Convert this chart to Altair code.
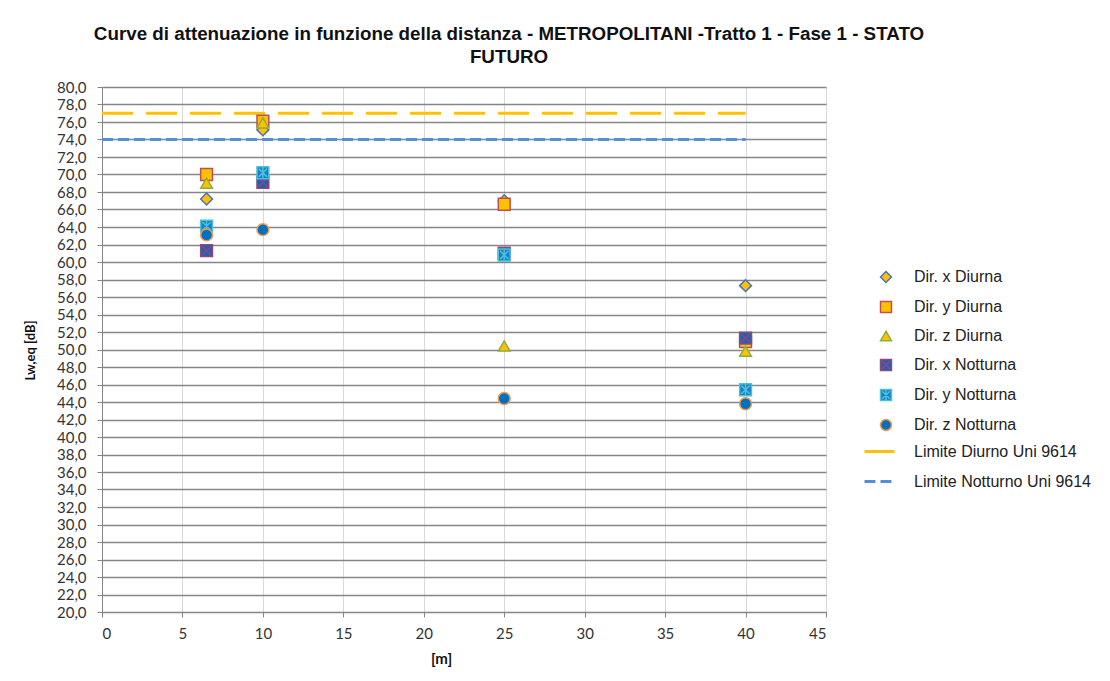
import altair as alt
import pandas as pd

# ---------------- data ----------------
dist = [6.5, 10, 25, 40]
series_names = ["Dir. x Diurna", "Dir. y Diurna", "Dir. z Diurna",
                "Dir. x Notturna", "Dir. y Notturna", "Dir. z Notturna"]
x_diurna = [67.2, 75.1, 67.0, 57.3]
y_diurna = [70.0, 76.1, 66.6, 50.9]
z_diurna = [69.0, 75.9, 50.4, 49.8]
x_notturna = [61.3, 69.1, 61.0, 51.3]
y_notturna = [64.1, 70.2, 60.8, 45.4]
z_notturna = [63.1, 63.7, 44.4, 43.8]

limit_names = ["Limite Diurno Uni 9614", "Limite Notturno Uni 9614"]
limit_x = [0, 40]
limit_diurno = [77.0, 77.0]
limit_notturno = [74.0, 74.0]

title_lines = ["Curve di attenuazione in funzione della distanza - METROPOLITANI -Tratto 1 - Fase 1 - STATO",
               "FUTURO"]
x_title = "[m]"
y_title = "Lw,eq [dB]"

# ---------------- tables ----------------
all_series = [x_diurna, y_diurna, z_diurna, x_notturna, y_notturna, z_notturna]
rows = []
for name, vals in zip(series_names, all_series):
    for d, v in zip(dist, vals):
        rows.append({"serie": name, "m": d, "db": v})
pts = pd.DataFrame(rows)

lrows = []
for name, vals in zip(limit_names, [limit_diurno, limit_notturno]):
    for d, v in zip(limit_x, vals):
        lrows.append({"limite": name, "m": d, "db": v})
lines_df = pd.DataFrame(lrows)

FONT = "Lato"
LFONT = "Liberation Sans"

shape_x_notturna = "M-1,-1H1V1H-1Z M-0.75,-0.75L0.75,0.75 M0.75,-0.75L-0.75,0.75"
shape_y_notturna = "M-1,-1H1V1H-1Z M-0.7,-0.7L0.7,0.7 M0.7,-0.7L-0.7,0.7 M0,-0.95V0.95"

fill_range = ["#FFC000", "#FFC000", "#FFC000", "#1F5FB4", "#1B7CCB", "#0070C0"]
stroke_range = ["#4472C4", "#C0504D", "#8CAF3E", "#8A4A7E", "#4BC1D6", "#F79646"]
shape_range = ["diamond", "square", "triangle-up", shape_x_notturna, shape_y_notturna, "circle"]

pt_legend = alt.Legend(title=None, orient="none", legendX=776, legendY=182,
                       labelFont=LFONT, labelFontSize=16, labelColor="#222222",
                       symbolSize=120, symbolStrokeWidth=1.5, rowPadding=12,
                       labelOffset=20, padding=0, labelLimit=300)

line_legend = alt.Legend(title=None, orient="none", legendX=761, legendY=348,
                         labelFont=LFONT, labelFontSize=16,
                         labelColor="#222222", symbolType="stroke",
                         symbolSize=900, symbolStrokeWidth=3,
                         rowPadding=5, labelOffset=18, padding=0, labelLimit=300)

x_scale = alt.Scale(domain=[0, 45], nice=False)
y_scale = alt.Scale(domain=[20, 80], nice=False)

x_axis = alt.Axis(values=list(range(0, 50, 5)), tickCount=10, title=x_title, labelFont=FONT,
                  labelFontSize=15, labelColor="#333333", labelPadding=9,
                  tickSize=5, tickColor="#868686", domainColor="#868686",
                  gridColor="#d9d9d9", gridWidth=1, titleFont=FONT,
                  titleFontSize=15, titleFontWeight="bold", titleColor="#111111",
                  titleX=339, titleY=46, titleBaseline="middle")
y_axis = alt.Axis(values=list(range(20, 82, 2)), tickCount=31, title=y_title,
                  labelExpr="replace(format(datum.value, '.1f'), '.', ',')",
                  labelOverlap=False,
                  labelFont=FONT, labelFontSize=15, labelColor="#333333",
                  labelPadding=11, tickSize=5, tickColor="#868686",
                  domainColor="#868686", gridColor="#868686", gridWidth=1.6,
                  titleFont=FONT, titleFontSize=13, titleFontWeight="bold",
                  titleColor="#111111", titleX=-72, titleY=263,
                  titleAngle=-90, titleAlign="center", titleBaseline="middle")

lines = alt.Chart(lines_df).mark_line(strokeWidth=3).encode(
    x=alt.X("m:Q", scale=x_scale, axis=x_axis),
    y=alt.Y("db:Q", scale=y_scale, axis=y_axis),
    color=alt.Color("limite:N",
                    scale=alt.Scale(domain=limit_names, range=["#FFC000", "#558ED5"]),
                    legend=line_legend),
    strokeDash=alt.StrokeDash("limite:N",
                              scale=alt.Scale(domain=limit_names, range=[[31, 13], [11, 5]]),
                              legend=line_legend),
    detail="limite:N",
)

points = alt.Chart(pts).mark_point(filled=False, opacity=1, strokeWidth=1.5, size=140).encode(
    x=alt.X("m:Q", scale=x_scale),
    y=alt.Y("db:Q", scale=y_scale),
    fill=alt.Fill("serie:N", scale=alt.Scale(domain=series_names, range=fill_range), legend=pt_legend),
    stroke=alt.Stroke("serie:N", scale=alt.Scale(domain=series_names, range=stroke_range), legend=pt_legend),
    shape=alt.Shape("serie:N", scale=alt.Scale(domain=series_names, range=shape_range), legend=pt_legend),
    order=alt.Order("idx:Q"),
).transform_calculate(idx="indexof(%s, datum.serie)" % str(series_names).replace("'", '"'))

chart = alt.layer(lines, points).properties(
    width=724, height=525,
    title=alt.Title(title_lines, font=LFONT, fontSize=18.8, fontWeight="bold",
                    color="#111111", anchor="middle", dx=45, offset=13, lineHeight=23),
    autosize=alt.AutoSizeParams(type="none"),
    padding={"left": 94, "top": 79, "right": 270, "bottom": 60},
).configure_view(stroke=None).configure(background="white")

chart.save("out.html", embed_options={"renderer": "svg", "actions": False})
